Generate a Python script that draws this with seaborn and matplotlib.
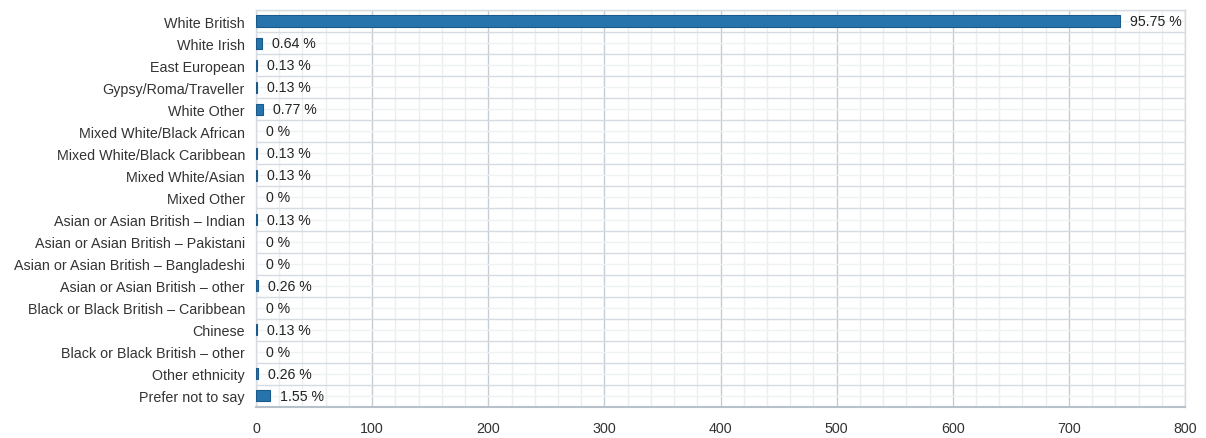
import matplotlib
matplotlib.use('Agg')
import matplotlib.pyplot as plt
from matplotlib.ticker import MultipleLocator, FixedLocator, NullFormatter
import seaborn as sns
import pandas as pd
import numpy as np

categories = ['White British', 'White Irish', 'East European', 'Gypsy/Roma/Traveller',
              'White Other', 'Mixed White/Black African', 'Mixed White/Black Caribbean',
              'Mixed White/Asian', 'Mixed Other', 'Asian or Asian British \u2013 Indian',
              'Asian or Asian British \u2013 Pakistani', 'Asian or Asian British \u2013 Bangladeshi',
              'Asian or Asian British \u2013 other', 'Black or Black British \u2013 Caribbean',
              'Chinese', 'Black or Black British \u2013 other', 'Other ethnicity',
              'Prefer not to say']
counts = [744, 5, 1, 1, 6, 0, 1, 1, 0, 1, 0, 0, 2, 0, 1, 0, 2, 12]
pct_labels = ['95.75 %', '0.64 %', '0.13 %', '0.13 %', '0.77 %', '0 %', '0.13 %', '0.13 %',
              '0 %', '0.13 %', '0 %', '0 %', '0.26 %', '0 %', '0.13 %', '0 %', '0.26 %',
              '1.55 %']

df = pd.DataFrame({'category': categories, 'count': counts})

sns.set_style('white')
plt.rcParams['font.family'] = ['Liberation Sans', 'DejaVu Sans']

fig = plt.figure(figsize=(12.06, 4.39), dpi=100)
ax = fig.add_axes([0.2123, 0.0706, 0.7703, 0.9044])

sns.barplot(data=df, x='count', y='category', orient='h', color='#2774ad',
            width=0.5, edgecolor='#1a5a8a', linewidth=0.8, saturation=1, ax=ax, zorder=3)

# no outline on empty bars
for p in ax.patches:
    if p.get_width() == 0:
        p.set_edgecolor('none')

ax.set_xlim(0, 800)
ax.set_ylim(len(categories) - 0.5, -0.5)
ax.xaxis.set_major_locator(MultipleLocator(100))
ax.xaxis.set_minor_locator(MultipleLocator(20))
ax.yaxis.set_minor_locator(FixedLocator(np.arange(-0.5, len(categories), 1)))
ax.yaxis.set_minor_formatter(NullFormatter())

ax.grid(True, axis='x', which='major', color='#c5cdd4', linewidth=1, zorder=0)
ax.grid(True, axis='x', which='minor', color='#eaeef1', linewidth=1, zorder=0)
ax.grid(True, axis='y', which='minor', color='#d5dbe0', linewidth=1, zorder=0)
ax.grid(True, axis='y', which='major', color='#eff2f4', linewidth=1, zorder=0)
ax.set_axisbelow(True)

ax.tick_params(axis='y', which='major', length=0, pad=8, labelsize=10.3, labelcolor='#333333')
ax.tick_params(axis='y', which='minor', length=6, width=1, color='#c5cdd4', direction='out')
ax.tick_params(axis='x', which='major', length=6, width=1, color='#b8c1c9', pad=4,
               labelsize=10.3, labelcolor='#333333')
ax.tick_params(axis='x', which='minor', length=0)

ax.set_xlabel('')
ax.set_ylabel('')

for s in ['top', 'right', 'left']:
    ax.spines[s].set_color('#d5dbe0')
    ax.spines[s].set_linewidth(1)
ax.spines['bottom'].set_color('#b8c1c9')
ax.spines['bottom'].set_linewidth(1.5)

for i, (v, lab) in enumerate(zip(counts, pct_labels)):
    ax.annotate(lab, xy=(v, i), xytext=(7, 0), textcoords='offset points',
                va='center', ha='left', fontsize=10.2, color='#222222', zorder=4)

fig.savefig('out.png', dpi=100)
